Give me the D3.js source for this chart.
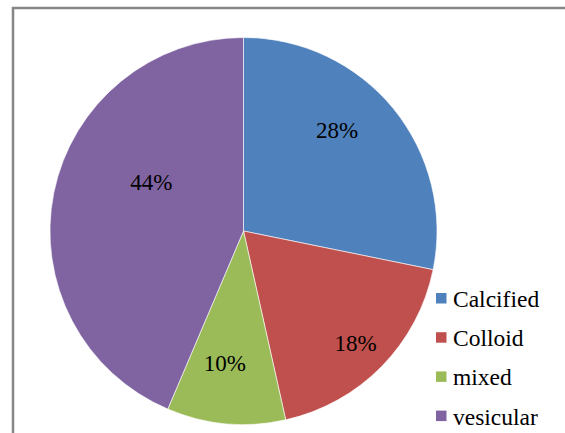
<!DOCTYPE html>
<html>
<head>
<meta charset="utf-8">
<script src="https://cdn.jsdelivr.net/npm/d3@7"></script>
<style>
  body { margin: 0; background: #fff; }
  svg { display: block; }
  text { font-family: 'Liberation Serif', 'Times New Roman', Times, serif; }
</style>
</head>
<body>
<svg id="chart"></svg>
<script>
const WIDTH = 565
const HEIGHT = 433

const categories = ['Calcified', 'Colloid', 'mixed', 'vesicular']
const shares = [28.2, 18.3, 9.9, 43.6]
const colors = ['#4F81BD', '#C0504D', '#9BBB59', '#8064A2']

// best-fit label spots: [angle in degrees from 12 o'clock, fraction of radius]
const labelSpots = [[43, 0.71], [135, 0.82], [188, 0.69], [298, 0.54]]

const cx = 243.5
const cy = 231
const radius = 193.5

const svg = d3.select('#chart')
    .attr('width', WIDTH)
    .attr('height', HEIGHT)

// chart area border (runs off the right and bottom)
svg.append('rect')
    .attr('x', 13)
    .attr('y', 8)
    .attr('width', 700)
    .attr('height', 600)
    .attr('fill', 'none')
    .attr('stroke', '#868686')
    .attr('stroke-width', 2.5)

const pie = d3.pie().sort(null).value(d => d)
const arcs = pie(shares)
const arc = d3.arc().innerRadius(0).outerRadius(radius)

const g = svg.append('g')
    .attr('transform', `translate(${cx}, ${cy})`)

g.selectAll('path')
    .data(arcs)
    .join('path')
    .attr('d', arc)
    .attr('fill', (d, i) => colors[i])
    .attr('stroke', '#fff')
    .attr('stroke-width', 0.6)

const total = d3.sum(shares)

g.selectAll('text')
    .data(arcs)
    .join('text')
    .attr('x', (d, i) => Math.sin(labelSpots[i][0] * Math.PI / 180) * labelSpots[i][1] * radius)
    .attr('y', (d, i) => -Math.cos(labelSpots[i][0] * Math.PI / 180) * labelSpots[i][1] * radius)
    .attr('dy', '0.33em')
    .attr('text-anchor', 'middle')
    .style('font-size', '23px')
    .attr('fill', '#000')
    .text(d => Math.round(d.value / total * 100) + '%')

// legend
const legend = svg.append('g')
    .attr('transform', 'translate(436, 307)')

const rowGap = 39.2

const rows = legend.selectAll('g')
    .data(categories)
    .join('g')
    .attr('transform', (d, i) => `translate(0, ${i * rowGap})`)

rows.append('rect')
    .attr('x', 0)
    .attr('y', -14)
    .attr('width', 10.5)
    .attr('height', 10.5)
    .attr('fill', (d, i) => colors[i])

rows.append('text')
    .attr('x', 17)
    .attr('y', 0)
    .style('font-size', '23.5px')
    .attr('fill', '#000')
    .text(d => d)
</script>
</body>
</html>
